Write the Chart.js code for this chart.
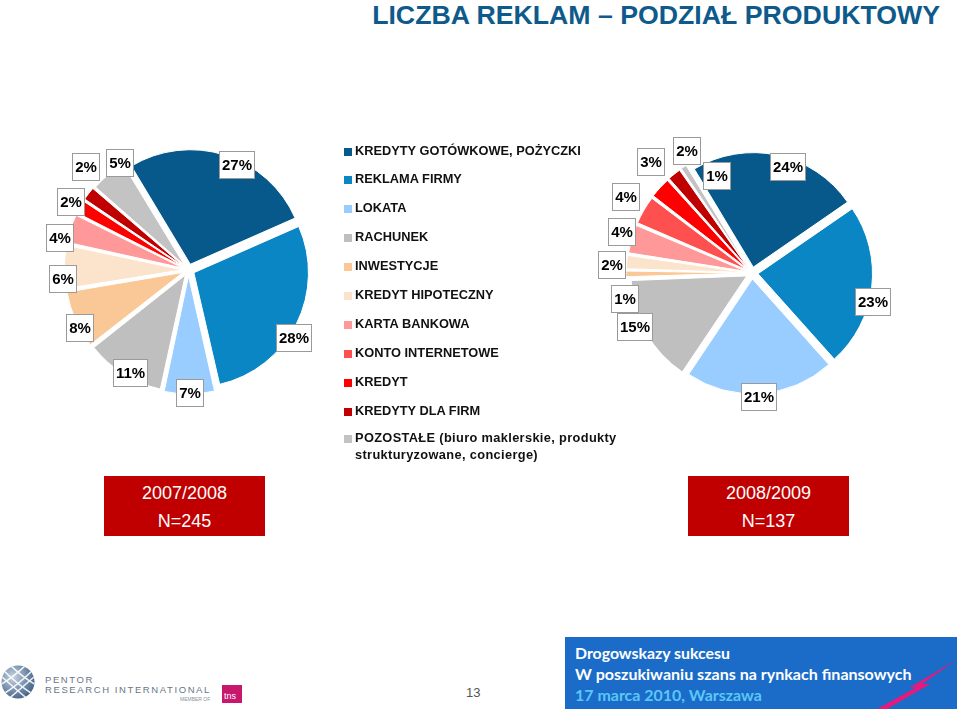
<!DOCTYPE html>
<html>
<head>
<meta charset="utf-8">
<script src="https://cdn.jsdelivr.net/npm/chart.js@4.4.0/dist/chart.umd.min.js"></script>
<style>
  html,body{margin:0;padding:0;background:#fff;}
  body{width:960px;height:709px;position:relative;overflow:hidden;font-family:"Liberation Sans",Arial,Helvetica,sans-serif;}
  #title{position:absolute;right:20px;top:2px;font-weight:bold;font-size:26.7px;line-height:1;color:#0E5A8A;white-space:nowrap;}
  canvas{position:absolute;}
  #c1{left:18px;top:100px;}
  #c2{left:582px;top:103px;}
  #legend{position:absolute;left:0;top:0;}
  .li{position:absolute;left:355px;font-weight:bold;font-size:12.8px;line-height:17px;color:#111;white-space:nowrap;}
  .sw{position:absolute;left:344px;width:8px;height:8px;}
  .yr{position:absolute;top:476px;width:161px;height:60px;background:#C00000;color:#fff;text-align:center;font-size:18px;}
  .yr div{position:absolute;left:0;right:0;line-height:1;}
  #pg{position:absolute;left:466px;top:686px;font-family:"Liberation Sans Narrow","Liberation Sans",Arial,sans-serif;font-size:13px;color:#555;line-height:1;}
  #blue{position:absolute;left:565px;top:637px;width:392px;height:72px;background:#1A6CC8;overflow:hidden;}
  .ft{position:absolute;left:10px;font-family:Lato,"Open Sans",sans-serif;font-weight:700;line-height:1;white-space:nowrap;color:#fff;}
  #pentor{position:absolute;left:0;top:655px;}
</style>
</head>
<body>
<div id="title">LICZBA REKLAM – PODZIAŁ PRODUKTOWY</div>
<canvas id="c1" width="341" height="340"></canvas>
<canvas id="c2" width="340" height="340"></canvas>
<div id="legend"></div>

<div class="yr" style="left:104px;"><div style="top:8px;">2007/2008</div><div style="top:36px;">N=245</div></div>
<div class="yr" style="left:688px;"><div style="top:8px;">2008/2009</div><div style="top:36px;">N=137</div></div>

<svg id="pentor" width="250" height="54" viewBox="0 0 250 54">
  <defs>
    <radialGradient id="gl" cx="0.35" cy="0.35" r="0.75">
      <stop offset="0" stop-color="#c9d5e2"/>
      <stop offset="0.6" stop-color="#6f8aa8"/>
      <stop offset="1" stop-color="#3f5f82"/>
    </radialGradient>
    <clipPath id="gc"><circle cx="18" cy="27" r="16.5"/></clipPath>
  </defs>
  <circle cx="18" cy="27" r="16.5" fill="url(#gl)"/>
  <g clip-path="url(#gc)" stroke="#fff" stroke-width="1.6" fill="none" opacity="0.9">
    <path d="M2 14 Q18 30 34 40"/><path d="M2 22 Q18 36 30 46"/><path d="M8 8 Q22 22 36 30"/>
    <path d="M34 14 Q18 30 2 40"/><path d="M34 22 Q18 36 6 46"/><path d="M28 8 Q14 22 0 30"/>
  </g>
  <text x="45" y="28" font-family="Liberation Sans, Arial" font-size="9.5" fill="#6a7686" letter-spacing="1.6">PENTOR</text>
  <text x="45" y="37.5" font-family="Liberation Sans, Arial" font-size="9.5" fill="#6a7686" letter-spacing="1.6">RESEARCH INTERNATIONAL</text>
  <text x="180" y="46" font-family="Liberation Sans, Arial" font-size="5" fill="#8a93a0">MEMBER OF</text>
  <rect x="222" y="30" width="20" height="18" fill="#C8186E"/>
  <text x="224" y="44" font-family="Liberation Sans, Arial" font-size="9" fill="#fff">tns</text>
</svg>

<div id="pg">13</div>

<div id="blue">
  <div class="ft" id="f1" style="top:8px;font-size:16px;">Drogowskazy sukcesu</div>
  <div class="ft" id="f2" style="top:29px;font-size:16px;">W poszukiwaniu szans na rynkach finansowych</div>
  <div class="ft" id="f3" style="top:50px;font-size:16px;color:#5CC6F6;">17 marca 2010, Warszawa</div>
  <svg width="392" height="72" style="position:absolute;left:0;top:0;">
    <path d="M312 72 L352 50 L344 51 L391 23 L357 47 L365 47 L322 72 Z" fill="#E8197D"/>
  </svg>
</div>

<script>
// ---- DATA ----
const categories = [
  "KREDYTY GOTÓWKOWE, POŻYCZKI",
  "REKLAMA FIRMY",
  "LOKATA",
  "RACHUNEK",
  "INWESTYCJE",
  "KREDYT HIPOTECZNY",
  "KARTA BANKOWA",
  "KONTO INTERNETOWE",
  "KREDYT",
  "KREDYTY DLA FIRM",
  "POZOSTAŁE (biuro maklerskie, produkty strukturyzowane, concierge)"
];
const values2007_2008 = [27, 28, 7, 11, 8, 6, 4, 0, 2, 2, 5];
const values2008_2009 = [24, 23, 21, 15, 1, 2, 4, 4, 3, 2, 1];
const periodLabels = ["2007/2008", "2008/2009"];
const sampleSizes = [245, 137];

// ---- STYLE ----
const sliceColors = ["#06598A","#0A86C5","#99CCFF","#BFBFBF","#FAC896","#FCE3CB","#FF9999","#FF5050","#FF0000","#C00000","#C3C3C3"];
// label placement tweaks (degrees from slice middle, distance from centre in px)
const leftNudge = [7.2, 6.2, -0.3, -2.8, -4.3, -5.5, -5.4, 0, -0.1, 7.7, 7.4];
const leftDist  = [115.9, 125.6, 123, 118, 123, 125.8, 132.4, 135, 135.8, 145.1, 127];
const rightNudge = [6.7, 6.8, 0.9, 4.4, -11, -1.9, 1.9, 1.0, 5, 10.2, 13];
const rightDist  = [111.6, 124.2, 124.3, 128.4, 129.8, 140.1, 136, 147.5, 150, 137.8, 103.5];

// legend (HTML)
const legendEl = document.getElementById('legend');
const legendRowTop = [143.5,172.4,201.3,230.2,259.1,288,316.9,345.8,374.7,403.6,430.5];
categories.forEach((c, i) => {
  const sw = document.createElement('div');
  sw.className = 'sw';
  sw.style.top = (legendRowTop[i] + 4) + 'px';
  sw.style.background = sliceColors[i];
  legendEl.appendChild(sw);
  const t = document.createElement('div');
  t.className = 'li';
  t.style.top = (legendRowTop[i] - 2) + 'px';
  if (i === categories.length - 1) {
    t.innerHTML = 'POZOSTAŁE (biuro maklerskie, produkty<br>strukturyzowane, concierge)';
    t.style.letterSpacing = '0.35px';
  } else {
    t.textContent = c;
  }
  legendEl.appendChild(t);
});

const boxLabels = {
  id: 'boxLabels',
  afterDatasetsDraw(chart, args, opts) {
    const ctx = chart.ctx;
    const meta = chart.getDatasetMeta(0);
    const data = chart.data.datasets[0].data;
    ctx.save();
    ctx.font = 'bold 15px "Liberation Sans", Arial, sans-serif';
    ctx.textAlign = 'center';
    ctx.textBaseline = 'middle';
    for (let i = meta.data.length - 1; i >= 0; i--) {
      const v = data[i];
      if (!v) continue;
      const arc = meta.data[i];
      const p = arc.getProps(['x','y','startAngle','endAngle'], true);
      const mid = (p.startAngle + p.endAngle) / 2 + opts.nudge[i] * Math.PI / 180;
      const r = opts.dist[i];
      const lx = p.x + Math.cos(mid) * r;
      const ly = p.y + Math.sin(mid) * r;
      const txt = v + '%';
      const w = Math.round(ctx.measureText(txt).width + 6);
      const h = 28;
      const bx = Math.round(lx - w / 2), by = Math.round(ly - h / 2);
      ctx.fillStyle = '#fff';
      ctx.fillRect(bx, by, w, h);
      ctx.strokeStyle = '#9a9a9a';
      ctx.lineWidth = 1;
      ctx.strokeRect(bx + 0.5, by + 0.5, w - 1, h - 1);
      ctx.fillStyle = '#000';
      ctx.fillText(txt, bx + w / 2, by + h / 2 + 1);
    }
    ctx.restore();
  }
};

function makePie(id, values, nudge, dist) {
  return new Chart(document.getElementById(id), {
    type: 'pie',
    data: {
      labels: categories,
      datasets: [{
        data: values,
        backgroundColor: sliceColors,
        borderColor: '#ffffff',
        borderWidth: 1,
        offset: 24
      }]
    },
    options: {
      responsive: false,
      animation: false,
      radius: 114.5,
      rotation: -31,
      layout: { padding: 0 },
      events: [],
      plugins: {
        legend: { display: false },
        tooltip: { enabled: false },
        boxLabels: { nudge: nudge, dist: dist }
      }
    },
    plugins: [boxLabels]
  });
}
makePie('c1', values2007_2008, leftNudge, leftDist);
makePie('c2', values2008_2009, rightNudge, rightDist);

// fit footer text widths
function fit(id, target) {
  const el = document.getElementById(id);
  const w = el.getBoundingClientRect().width;
  const fs = parseFloat(el.style.fontSize);
  el.style.fontSize = (fs * target / w) + 'px';
}
(document.fonts ? document.fonts.ready : Promise.resolve()).then(() => {
  fit('f1', 155); fit('f2', 337); fit('f3', 187);
});
</script>
</body>
</html>
